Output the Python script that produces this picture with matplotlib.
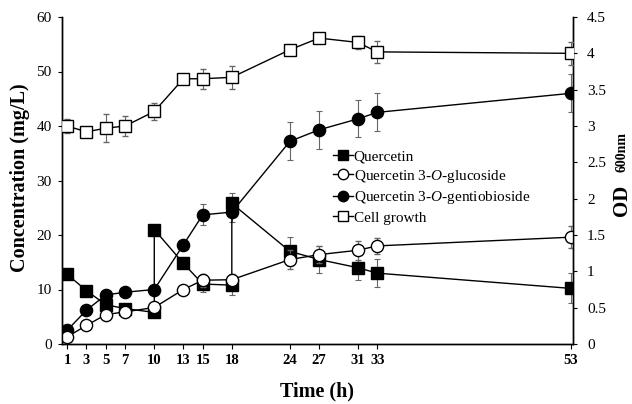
import matplotlib
matplotlib.use("Agg")
import matplotlib.pyplot as plt
from matplotlib.ticker import FuncFormatter
from matplotlib.lines import Line2D

plt.rcParams['font.family'] = ['Liberation Serif', 'DejaVu Serif']
plt.rcParams['mathtext.fontset'] = 'custom'
plt.rcParams['mathtext.rm'] = 'Liberation Serif'
plt.rcParams['mathtext.it'] = 'Liberation Serif:italic'

# ---- data ----
time_ticks = [1, 3, 5, 7, 10, 13, 15, 18, 24, 27, 31, 33, 53]

quer_t = [1, 3, 5, 7, 10, 10, 13, 15, 18, 18, 24, 27, 31, 33, 53]
quer = [12.8, 9.8, 7.2, 6.5, 5.8, 21.0, 14.8, 11.0, 10.8, 25.8, 17.0, 15.5, 14.0, 13.0, 10.2]
quer_err = [0, 0, 0, 0, 0, 0, 0.5, 1.4, 1.8, 1.9, 2.6, 2.5, 2.3, 2.6, 2.75]

t = [1, 3, 5, 7, 10, 13, 15, 18, 24, 27, 31, 33, 53]
gluc = [1.3, 3.4, 5.4, 5.9, 6.7, 10.0, 11.7, 11.8, 15.5, 16.4, 17.2, 18.0, 19.6]
gluc_err = [0, 0, 0, 0, 0, 0, 1.2, 1.0, 1.7, 1.6, 1.7, 1.5, 2.0]

gent = [2.5, 6.2, 9.0, 9.5, 10.0, 18.2, 23.7, 24.2, 37.2, 39.3, 41.3, 42.5, 46.0]
gent_err = [0, 0, 0, 0, 0, 0, 1.9, 1.8, 3.5, 3.5, 3.4, 3.5, 3.5]

cell = [3.0, 2.92, 2.97, 3.0, 3.2, 3.65, 3.65, 3.67, 4.05, 4.21, 4.15, 4.02, 4.0]
cell_err = [0.1, 0.02, 0.19, 0.14, 0.12, 0.0, 0.14, 0.16, 0.0, 0.0, 0.09, 0.15, 0.16]

labels = ['Quercetin', 'Quercetin 3-$\\mathit{O}$-glucoside',
          'Quercetin 3-$\\mathit{O}$-gentiobioside', 'Cell growth']

# ---- figure ----
fig = plt.figure(figsize=(6.32, 4.04), dpi=100)
ax = fig.add_subplot(111)
fig.subplots_adjust(left=62/632, right=573/632, bottom=1-344/404, top=1-17/404)
ax2 = ax.twinx()

ms = 8.8
lw = 1.0
ekw = dict(ecolor='0.4', elinewidth=0.8, capsize=2, capthick=0.8)

ax.errorbar(quer_t, quer, yerr=quer_err, color='black', lw=lw, marker='s',
            ms=ms - 0.6, mfc='black', mec='black', zorder=3, **ekw)
ax.errorbar(t, gluc, yerr=gluc_err, color='black', lw=lw, marker='o',
            ms=ms, mfc='white', mec='black', mew=1.0, zorder=4, **ekw)
ax.errorbar(t, gent, yerr=gent_err, color='black', lw=lw, marker='o',
            ms=ms, mfc='black', mec='black', zorder=3, **ekw)
ax2.errorbar(t, cell, yerr=cell_err, color='black', lw=lw, marker='s',
             ms=ms - 0.6, mfc='white', mec='black', mew=1.0, zorder=3, **ekw)

ax.set_xlim(0.48, 53.2)
ax.set_ylim(0, 60)
ax2.set_ylim(0, 4.5)

ax.set_xticks(time_ticks)
ax.set_xticklabels([str(v) for v in time_ticks], fontweight='bold', fontsize=10.5)
ax.set_yticks(range(0, 61, 10))
ax.tick_params(axis='y', direction='out', length=3, width=0.8, labelsize=11, pad=4.5)
ax.tick_params(axis='x', direction='out', length=3.5, width=0.8, pad=4)
ax2.set_yticks([i * 0.5 for i in range(10)])
ax2.yaxis.set_major_formatter(FuncFormatter(lambda v, p: ('%g' % v)))
ax2.tick_params(axis='y', direction='out', length=3, width=0.8, labelsize=11, pad=7)

for a in (ax, ax2):
    a.spines['top'].set_visible(False)
    for s in ('left', 'right', 'bottom'):
        a.spines[s].set_linewidth(1.0)

ax.set_xlabel('Time (h)', fontsize=14.5, fontweight='bold')
ax.xaxis.set_label_coords(0.5, -0.115)
ax.set_ylabel('Concentration (mg/L)', fontsize=14.5, fontweight='bold')
ax.yaxis.set_label_coords(-0.062, 0.51)

fig.text(631.5/632, 1 - 200/404, 'OD', rotation=90, fontsize=15, fontweight='bold',
         ha='right', va='center')
fig.text(629/632, 1 - 152/404, '600nm', rotation=90, fontsize=10, fontweight='bold',
         ha='right', va='center')

handles = [
    Line2D([], [], color='black', lw=lw, marker='s', ms=7, mfc='black', mec='black'),
    Line2D([], [], color='black', lw=lw, marker='o', ms=7.5, mfc='white', mec='black'),
    Line2D([], [], color='black', lw=lw, marker='o', ms=7.5, mfc='black', mec='black'),
    Line2D([], [], color='black', lw=lw, marker='s', ms=7, mfc='white', mec='black'),
]
ax.legend(handles, labels, loc='center left',
          bbox_to_anchor=((333 - 62) / 511, (344 - 187) / 327),
          frameon=False, fontsize=11, handlelength=1.3, handletextpad=0.05,
          labelspacing=0.3, borderpad=0, borderaxespad=0)

fig.savefig('out.png', dpi=100)
